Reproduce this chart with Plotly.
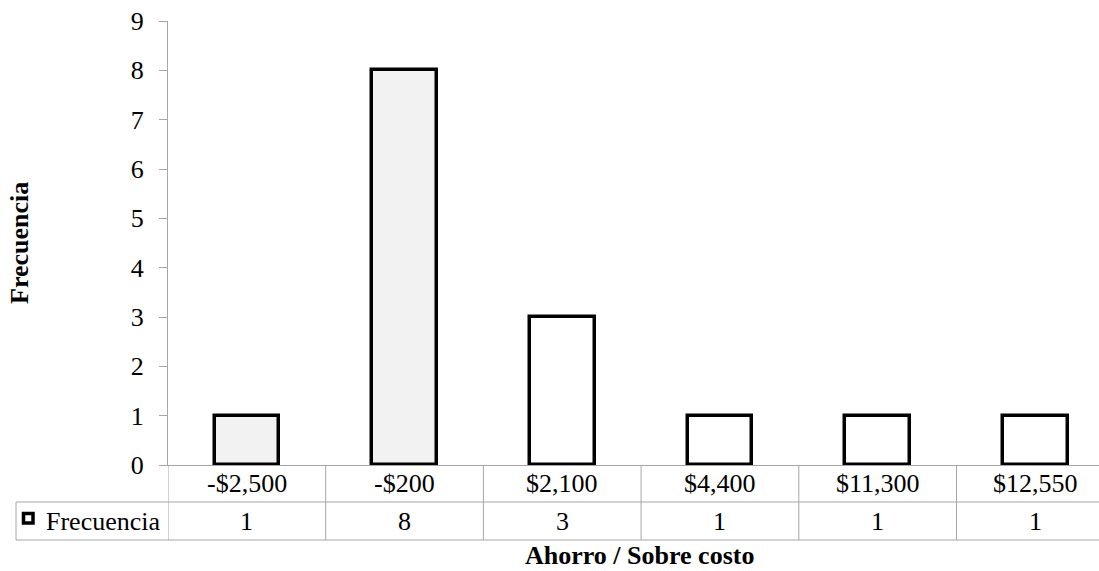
import plotly.graph_objects as go

# Frequency of savings / overrun amounts
categories = ["-$2,500", "-$200", "$2,100", "$4,400", "$11,300", "$12,550"]
frecuencia = [1, 8, 3, 1, 1, 1]
fill_colors = ["#f2f2f2", "#f2f2f2", "#ffffff", "#ffffff", "#ffffff", "#ffffff"]

W, H = 1099, 571
L, R, T, B = 168, 0, 21, 106
plot_w = W - L - R
plot_h = H - T - B
cat_px = 157.7  # width of one category slot in pixels

GRID = "#a6a6a6"
FONT = "Liberation Serif"
FS = 26

def px_x(px):
    return (px - L) / plot_w

def px_y(py):
    return (H - B - py) / plot_h

xs = list(range(len(categories)))

fig = go.Figure()
fig.add_trace(go.Bar(
    x=xs, y=frecuencia, width=0.41,
    marker=dict(color=fill_colors, line=dict(color="#000000", width=3.5)),
    name="Frecuencia", showlegend=False,
))

shapes = []
annotations = []

row1_bot = px_y(502)
row2_bot = px_y(540)
left_px = 16

# data table: vertical separators between categories
for i in range(len(categories)):
    shapes.append(dict(type="line", xref="x", yref="paper",
                       x0=i - 0.5, x1=i - 0.5, y0=0, y1=row2_bot,
                       line=dict(color=GRID, width=1)))
# legend cell left border
shapes.append(dict(type="line", xref="paper", yref="paper",
                   x0=px_x(left_px), x1=px_x(left_px), y0=row1_bot, y1=row2_bot,
                   line=dict(color=GRID, width=1)))
# horizontal table rules
for yy in (row1_bot, row2_bot):
    shapes.append(dict(type="line", xref="paper", yref="paper",
                       x0=px_x(left_px), x1=1, y0=yy, y1=yy,
                       line=dict(color=GRID, width=1)))
# legend key
shapes.append(dict(type="rect", xref="paper", yref="paper",
                   x0=px_x(23.5), x1=px_x(33), y0=px_y(523), y1=px_y(513.5),
                   line=dict(color="#000000", width=3.5), fillcolor="#ffffff"))

txt = dict(size=FS, color="#000000", family=FONT)
row1_mid = px_y(484)
row2_mid = px_y(521)
for i, (c, v) in enumerate(zip(categories, frecuencia)):
    annotations.append(dict(x=i, y=row1_mid, xref="x", yref="paper", text=c,
                            xanchor="center", yanchor="middle",
                            showarrow=False, font=txt))
    annotations.append(dict(x=i, y=row2_mid, xref="x", yref="paper", text=str(v),
                            xanchor="center", yanchor="middle",
                            showarrow=False, font=txt))

annotations.append(dict(x=px_x(44), y=row2_mid, xref="paper", yref="paper",
                        text="Frecuencia", xanchor="left", yanchor="middle",
                        showarrow=False, font=txt))

# axis titles
annotations.append(dict(x=px_x(19), y=0.5, xref="paper", yref="paper",
                        text="<b>Frecuencia</b>", textangle=-90, showarrow=False,
                        xanchor="center", yanchor="middle", font=txt))
annotations.append(dict(x=px_x(639), y=px_y(555), xref="paper", yref="paper",
                        text="<b>Ahorro / Sobre costo</b>", showarrow=False,
                        xanchor="center", yanchor="middle", borderpad=0,
                        font=txt))

fig.update_layout(
    width=W, height=H,
    margin=dict(l=L, r=R, t=T, b=B, pad=0),
    paper_bgcolor="#ffffff", plot_bgcolor="#ffffff",
    font=dict(family=FONT, size=FS, color="#000000"),
    xaxis=dict(range=[-0.5, -0.5 + plot_w / cat_px], showticklabels=False,
               showgrid=False, zeroline=False, showline=True,
               linecolor=GRID, linewidth=1, ticks="", fixedrange=True),
    yaxis=dict(range=[0, 9], dtick=1, showgrid=False, zeroline=False,
               showline=True, linecolor=GRID, linewidth=1,
               ticks="outside", ticklen=8, tickcolor=GRID, tickwidth=1,
               tickfont=txt, ticklabelstandoff=10),
    shapes=shapes,
    annotations=annotations,
    bargap=0,
)

fig.write_html("out.html")
